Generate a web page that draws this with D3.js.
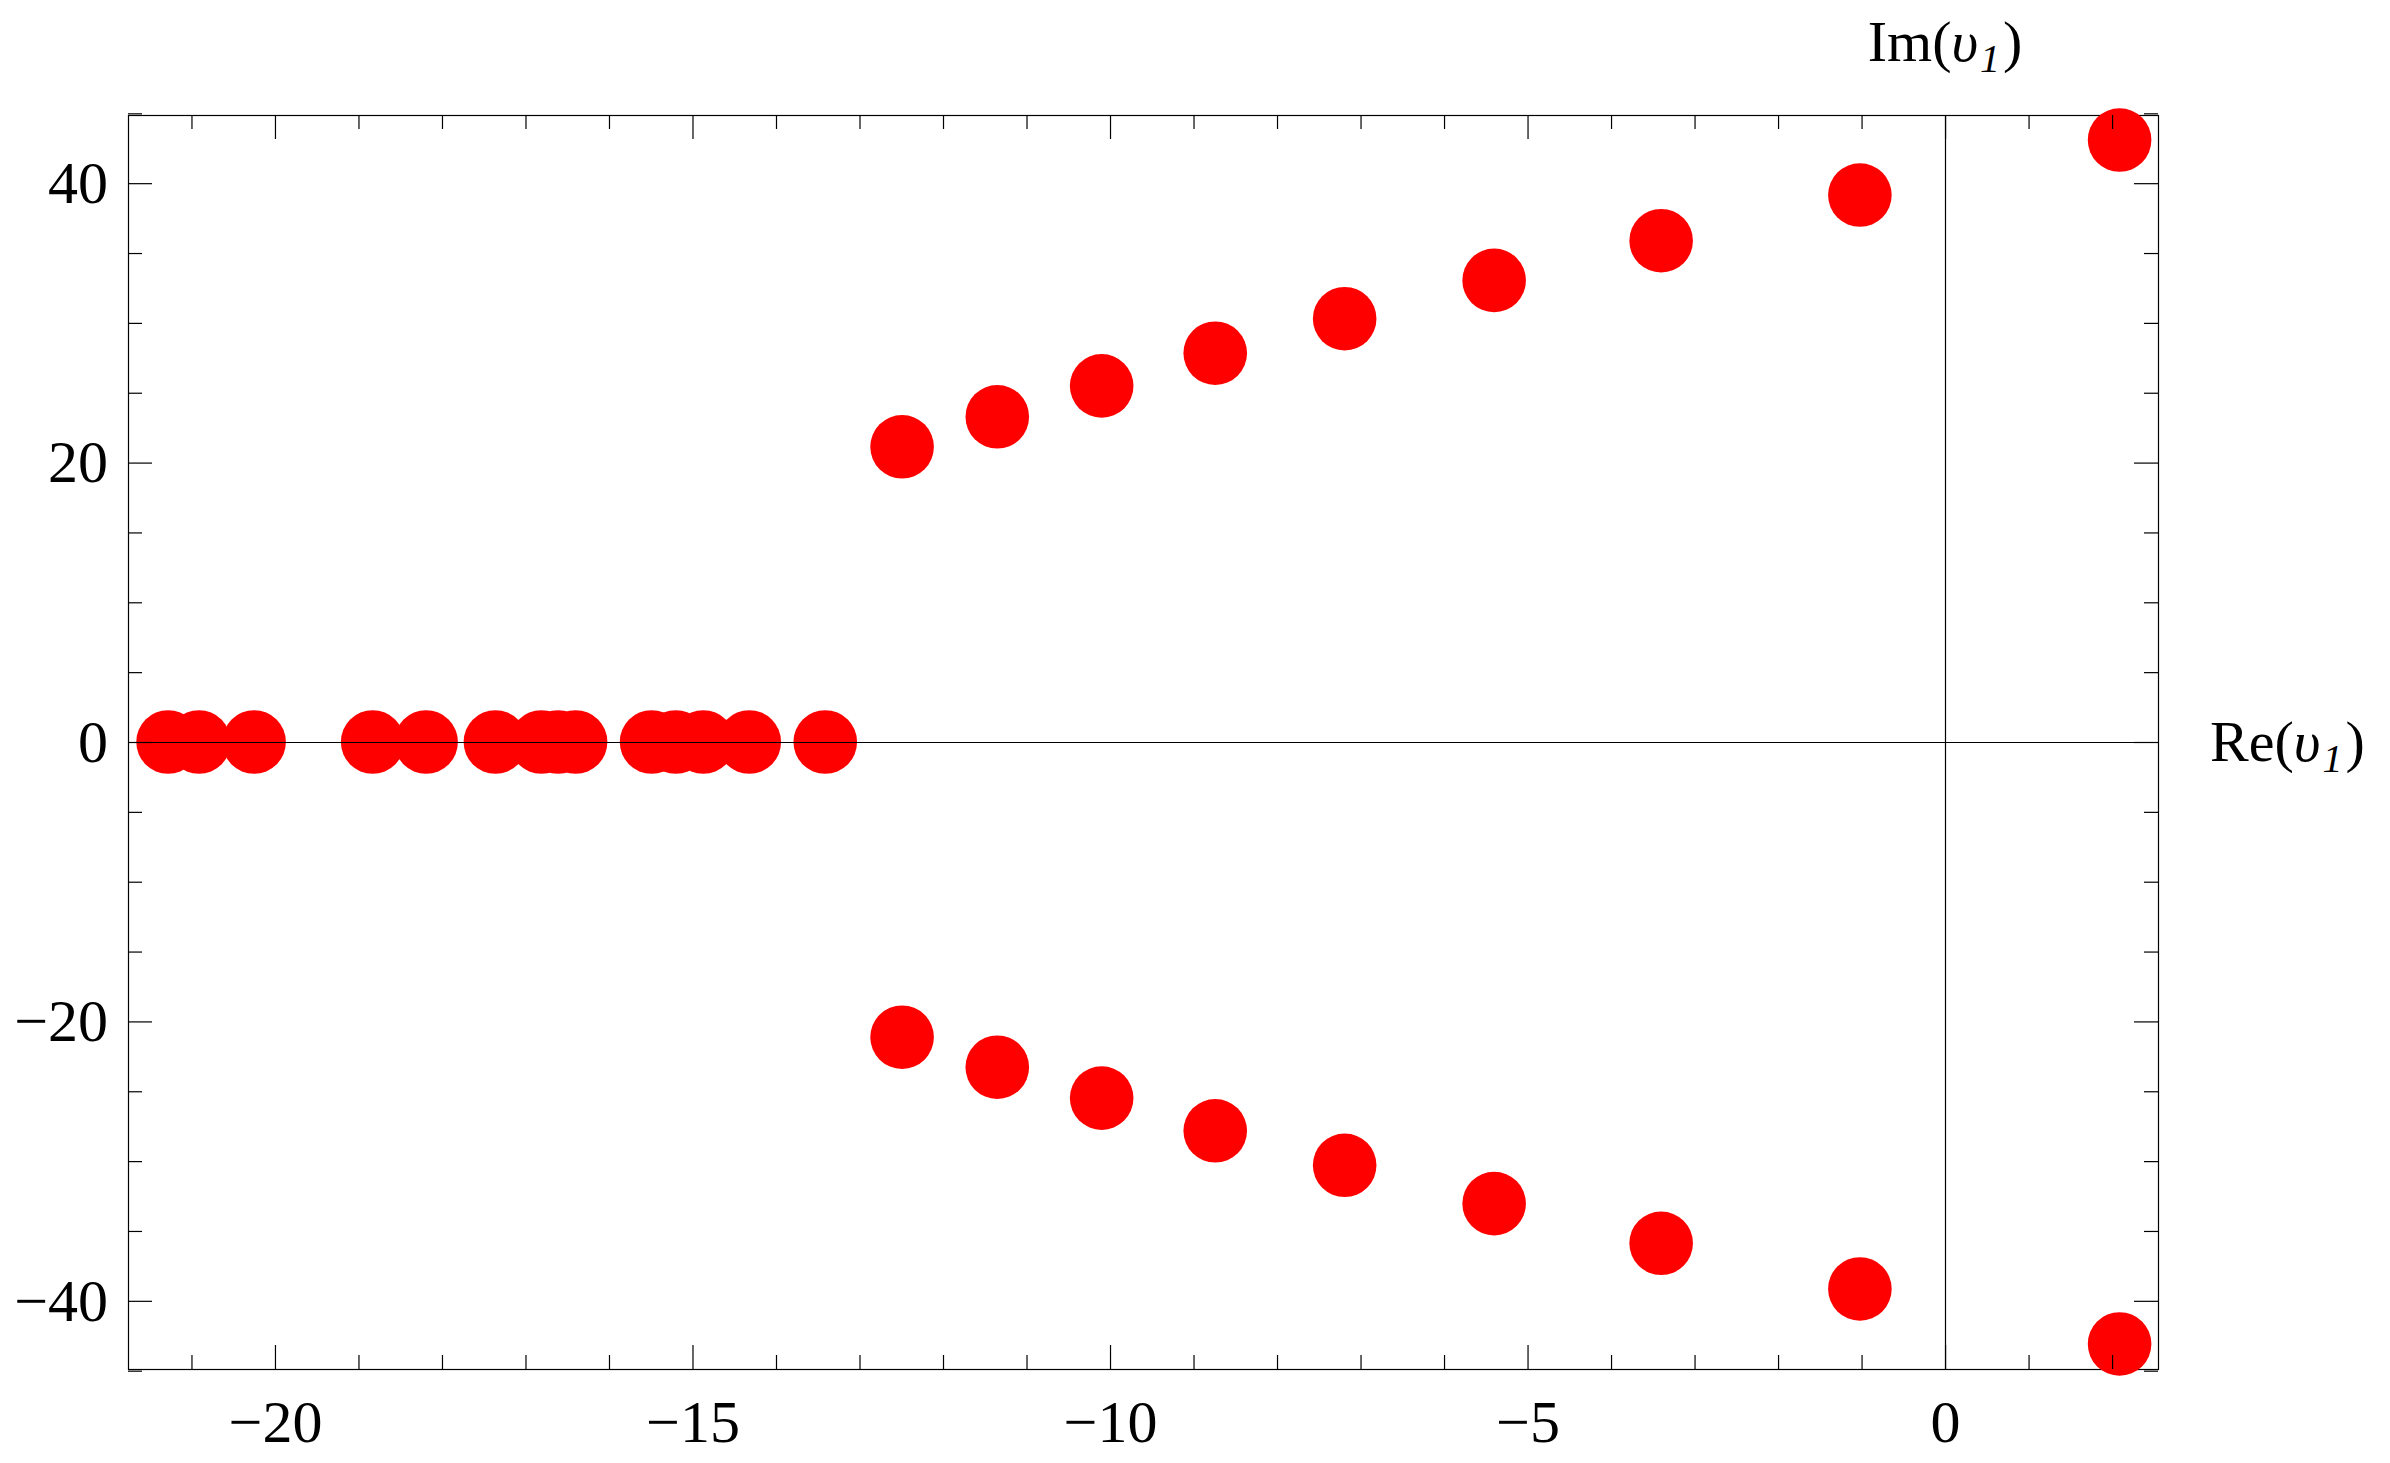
<!DOCTYPE html>
<html>
<head>
<meta charset="utf-8">
<script src="https://cdn.jsdelivr.net/npm/d3@7"></script>
<style>
  html, body { margin: 0; padding: 0; background: #fff; }
  svg { display: block; }
  text { font-family: "Liberation Serif", "Times New Roman", serif; fill: #000; }
</style>
</head>
<body>
<svg id="chart" width="2390" height="1463"></svg>
<script>
// ---- data ----
const realRoots = [-21.28, -20.91, -20.25, -18.83, -18.19, -17.36, -16.81, -16.61, -16.40, -15.49, -15.20, -14.87, -14.32, -13.41];
const complexRe = [-12.49, -11.35, -10.10, -8.74, -7.19, -5.40, -3.40, -1.02, 2.09];
const complexImUpper = [21.13, 23.28, 25.49, 27.83, 30.30, 33.04, 35.88, 39.15, 43.09];
const complexImLower = [-21.13, -23.28, -25.49, -27.83, -30.30, -33.04, -35.88, -39.15, -43.09];

const xMajorTicks = [-20, -15, -10, -5, 0];
const xMinorTicks = [-21, -19, -18, -17, -16, -14, -13, -12, -11, -9, -8, -7, -6, -4, -3, -2, -1, 1, 2];
const yMajorTicks = [-40, -20, 0, 20, 40];
const yMinorTicks = [-45, -35, -30, -25, -15, -10, -5, 5, 10, 15, 25, 30, 35, 45];

const xDomain = [-21.76, 2.55];
const yDomain = [-44.88, 44.88];

// ---- layout ----
const plotL = 128, plotR = 2158, plotT = 115, plotB = 1369;
const svg = d3.select("#chart");

const x = d3.scaleLinear().domain(xDomain).range([plotL, plotR]);
const y = d3.scaleLinear().domain(yDomain).range([plotB, plotT]);

const points = [];
realRoots.forEach(r => points.push({re: r, im: 0}));
complexRe.forEach((r, i) => points.push({re: r, im: complexImUpper[i]}));
complexRe.forEach((r, i) => points.push({re: r, im: complexImLower[i]}));

// frame
svg.append("rect")
  .attr("x", plotL + 0.5).attr("y", plotT + 0.5)
  .attr("width", plotR - plotL).attr("height", plotB - plotT)
  .attr("fill", "none").attr("stroke", "#000").attr("stroke-width", 1.2);

// points
svg.append("g").selectAll("circle").data(points).join("circle")
  .attr("cx", d => x(d.re)).attr("cy", d => y(d.im))
  .attr("r", 31.8).attr("fill", "#ff0000");

// zero axes
svg.append("line")
  .attr("x1", plotL).attr("x2", plotR)
  .attr("y1", Math.round(y(0)) + 0.5).attr("y2", Math.round(y(0)) + 0.5)
  .attr("stroke", "#000").attr("stroke-width", 1.2);
svg.append("line")
  .attr("x1", Math.round(x(0)) + 0.5).attr("x2", Math.round(x(0)) + 0.5)
  .attr("y1", plotT).attr("y2", plotB)
  .attr("stroke", "#000").attr("stroke-width", 1.2);

const fmt = d3.format("d");
function styleAxis(g) {
  g.select(".domain").remove();
  g.selectAll(".tick line").attr("stroke", "#000").attr("stroke-width", 1.2);
  g.selectAll("text").style("font-family", '"Liberation Serif", "Times New Roman", serif')
    .style("font-size", "60px").attr("fill", "#000");
}

// bottom
svg.append("g").attr("transform", `translate(0,${plotB})`)
  .call(d3.axisBottom(x).tickValues(xMajorTicks).tickSize(-24).tickPadding(30).tickFormat(fmt))
  .call(styleAxis);
svg.append("g").attr("transform", `translate(0,${plotB})`)
  .call(d3.axisBottom(x).tickValues(xMinorTicks).tickSize(-14).tickFormat(""))
  .call(styleAxis);
// top
svg.append("g").attr("transform", `translate(0,${plotT})`)
  .call(d3.axisTop(x).tickValues(xMajorTicks).tickSize(-24).tickFormat(""))
  .call(styleAxis);
svg.append("g").attr("transform", `translate(0,${plotT})`)
  .call(d3.axisTop(x).tickValues(xMinorTicks).tickSize(-14).tickFormat(""))
  .call(styleAxis);
// left
svg.append("g").attr("transform", `translate(${plotL},0)`)
  .call(d3.axisLeft(y).tickValues(yMajorTicks).tickSize(-24).tickPadding(20).tickFormat(fmt))
  .call(styleAxis);
svg.append("g").attr("transform", `translate(${plotL},0)`)
  .call(d3.axisLeft(y).tickValues(yMinorTicks).tickSize(-14).tickFormat(""))
  .call(styleAxis);
// right
svg.append("g").attr("transform", `translate(${plotR},0)`)
  .call(d3.axisRight(y).tickValues(yMajorTicks).tickSize(-24).tickFormat(""))
  .call(styleAxis);
svg.append("g").attr("transform", `translate(${plotR},0)`)
  .call(d3.axisRight(y).tickValues(yMinorTicks).tickSize(-14).tickFormat(""))
  .call(styleAxis);

// axis labels
function axisLabel(name, xx, yy, anchor) {
  const t = svg.append("text").attr("x", xx).attr("y", yy)
    .attr("text-anchor", anchor).style("font-size", "58px");
  t.append("tspan").text(name + "(");
  t.append("tspan").style("font-style", "italic").text("υ");
  t.append("tspan").style("font-style", "italic").style("font-size", "40px")
    .attr("dy", 11).attr("dx", 2).text("1");
  t.append("tspan").attr("dy", -11).attr("dx", 3).text(")");
}
axisLabel("Im", x(0), 61, "middle");
axisLabel("Re", 2210, 761, "start");
</script>
</body>
</html>
